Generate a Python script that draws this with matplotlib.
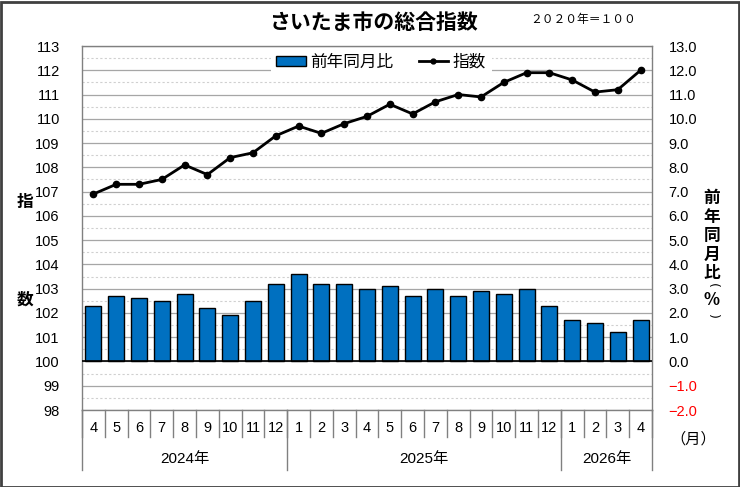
import matplotlib
matplotlib.use("Agg")
import matplotlib.pyplot as plt
import matplotlib.transforms as mtransforms
from matplotlib.patches import Patch, Rectangle
from matplotlib.lines import Line2D
import numpy as np

plt.rcParams['font.family'] = ['Liberation Sans', 'Noto Sans CJK JP', 'DejaVu Sans']

# ---- data ----
months = [4, 5, 6, 7, 8, 9, 10, 11, 12, 1, 2, 3, 4, 5, 6, 7, 8, 9, 10, 11, 12, 1, 2, 3, 4]
years = ["2024年", "2025年", "2026年"]
year_counts = [9, 12, 4]
index_values = [106.9, 107.3, 107.3, 107.5, 108.1, 107.7, 108.4, 108.6, 109.3, 109.7,
                109.4, 109.8, 110.1, 110.6, 110.2, 110.7, 111.0, 110.9, 111.5, 111.9,
                111.9, 111.6, 111.1, 111.2, 112.0]
yoy_values = [2.3, 2.7, 2.6, 2.5, 2.8, 2.2, 1.9, 2.5, 3.2, 3.6,
              3.2, 3.2, 3.0, 3.1, 2.7, 3.0, 2.7, 2.9, 2.8, 3.0,
              2.3, 1.7, 1.6, 1.2, 1.7]
left_ticks = list(range(98, 114))
right_ticks = [float(v) for v in range(-2, 14)]

W, H = 740, 487
fig = plt.figure(figsize=(W / 100, H / 100), dpi=100)

L, R, T, B = 82, 652, 46, 410
axb = fig.add_axes([L / W, 1 - B / H, (R - L) / W, (B - T) / H])  # bars (right scale)
axi = fig.add_axes(axb.get_position(), sharex=axb)  # index line (left scale)
axi.patch.set_visible(False)

n = len(months)
x = np.arange(n)

# bars on percent scale
axb.set_ylim(-2, 13)
axb.set_xlim(-0.5, n - 0.5)
axb.set_yticks(right_ticks)
axb.set_yticks(np.arange(-1.5, 13, 1.0), minor=True)
axb.grid(axis='y', which='major', color='#a6a6a6', lw=0.9, zorder=0)
axb.grid(axis='y', which='minor', color='#d0d0d0', lw=0.8, ls=(0, (2, 2)), zorder=0)
axb.set_axisbelow(True)
axb.bar(x, yoy_values, width=0.7, color='#0070C0', edgecolor='black', lw=1.0, zorder=2)
axb.axhline(0, color='black', lw=1.2, zorder=3)
axb.yaxis.tick_right()
axb.tick_params(axis='y', which='both', length=0, pad=12, labelsize=10.5)
axb.set_yticklabels([f"{v:.1f}".replace('-', '\u2212') for v in right_ticks])
for lab, v in zip(axb.get_yticklabels(), right_ticks):
    lab.set_color('red' if v < 0 else 'black')
axb.tick_params(axis='x', length=0, labelbottom=False)
for s in axb.spines.values():
    s.set_color('#808080')
    s.set_linewidth(1.0)

# index line on left scale
axi.set_ylim(98, 113)
axi.set_yticks(left_ticks)
axi.plot(x, index_values, color='black', lw=2.0, marker='o', ms=4.5, zorder=5)
axi.tick_params(axis='y', length=0, pad=16, labelsize=10.5)
axi.tick_params(axis='x', length=0, labelbottom=False)
for s in axi.spines.values():
    s.set_visible(False)

# legend
handles = [Patch(facecolor='#0070C0', edgecolor='black', lw=1.0),
           Line2D([0], [0], color='black', lw=2.0, marker='o', ms=3.5)]
leg = axi.legend(handles, ["前年同月比", "指数"], ncol=2, loc='upper center',
                 bbox_to_anchor=(0.525, 1.0), frameon=True, fontsize=12,
                 handlelength=1.75, handleheight=0.55, handletextpad=0.3,
                 columnspacing=1.5, borderpad=0.35, borderaxespad=0.15)
leg.get_frame().set_facecolor('white')
leg.get_frame().set_edgecolor('none')
leg.get_frame().set_alpha(1.0)

# x axis category labels with separators
tr = mtransforms.blended_transform_factory(axb.transData, fig.transFigure)
y_axis = 1 - B / H
y_month_end = 1 - 437 / H
y_year_end = 1 - 470 / H
for i in range(n + 1):
    xs = i - 0.5
    axb.plot([xs, xs], [y_axis, y_month_end], transform=tr, color='#808080', lw=1.0, clip_on=False)
for i, m in enumerate(months):
    fig.text(i, 1 - 428 / H, str(m), transform=tr, ha='center', va='center', fontsize=10.5)
bounds = np.concatenate([[0], np.cumsum(year_counts)]) - 0.5
for b in bounds:
    axb.plot([b, b], [y_axis, y_year_end], transform=tr, color='#808080', lw=1.0, clip_on=False)
for k, yl in enumerate(years):
    cx = (bounds[k] + bounds[k + 1]) / 2
    fig.text(cx, 1 - 459 / H, yl, transform=tr, ha='center', va='center', fontsize=11)

fig.text(693 / W, 1 - 439 / H, "（月）", ha='center', va='center', fontsize=11)

# titles
fig.text(373 / W, 1 - 23 / H, "さいたま市の総合指数", ha='center', va='center',
         fontsize=15, fontweight='bold')
fig.text(583 / W, 1 - 20 / H, "２０２０年＝１００", ha='center', va='center', fontsize=8.5)

# axis labels
fig.text(25 / W, 1 - 202 / H, "指", ha='center', va='center', fontsize=12, fontweight='bold')
fig.text(25 / W, 1 - 300 / H, "数", ha='center', va='center', fontsize=12, fontweight='bold')
for c, yy in zip(["前", "年", "同", "月", "比", "%"], [198, 217, 236, 255, 273, 300]):
    fig.text(712 / W, 1 - yy / H, c, ha='center', va='center', fontsize=12,
             fontweight='bold', family=['Noto Sans CJK JP', 'DejaVu Sans'])
for c, yy in zip(["(", ")"], [285, 316]):
    fig.text(712 / W, 1 - yy / H, c, ha='center', va='center', fontsize=9,
             rotation=-90, family=['DejaVu Sans'])

# outer border
fig.patches.append(Rectangle((0.5 / W, 0.5 / H), (W - 2) / W, (H - 2) / H, transform=fig.transFigure,
                             fill=False, edgecolor='#404040', lw=2.0))

fig.savefig("out.png", dpi=100)
